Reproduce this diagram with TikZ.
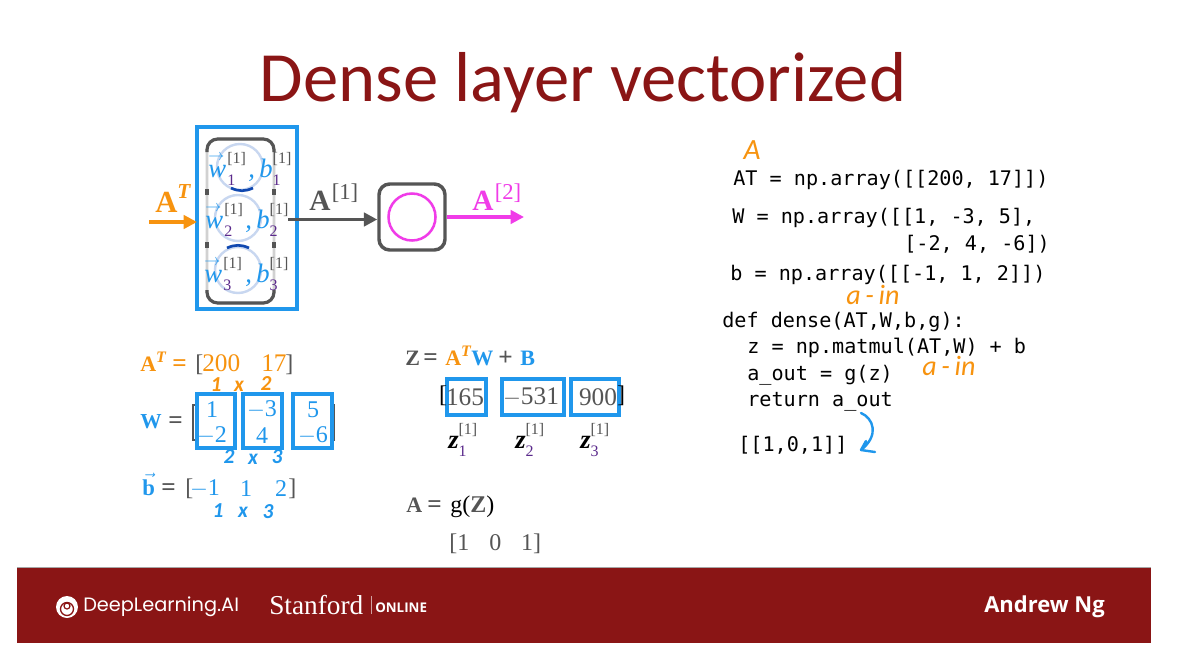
\documentclass[tikz,border=0pt]{standalone}
\usepackage{fontspec}
\setmainfont{Liberation Serif}
\newfontfamily\codefont{DejaVu Sans Mono}
\newfontfamily\titlefont{Carlito}
\newfontfamily\logofont{Poppins}
\newfontfamily\namefont{Open Sans}
\usetikzlibrary{arrows.meta}
\definecolor{slidered}{HTML}{8A1515}
\definecolor{boxblue}{HTML}{2097EC}
\definecolor{inorange}{HTML}{F7930F}
\definecolor{outmagenta}{HTML}{F03CE8}
\definecolor{darkgr}{HTML}{555555}
\definecolor{idxpurple}{HTML}{5B2A8C}
\definecolor{ringblue}{HTML}{C8D7F0}
\definecolor{capblue}{HTML}{1048B0}
\newcommand{\fs}[1]{\fontsize{#1}{#1}\selectfont}
\newcommand{\supsub}[3]{#1\rlap{\raisebox{-.3em}{\fs{12}\upshape\mdseries\color{idxpurple}#3}}\raisebox{.5em}{\fs{12}\upshape\mdseries\color{darkgr}[#2]}}
\newcommand{\wvec}{\rlap{\raisebox{.62em}{\fs{13}$\rightarrow$}}{\itshape w}\hspace{1pt}}
\begin{document}
\begin{tikzpicture}[x=0.75pt,y=-0.75pt,
  txt/.style={inner sep=0pt,anchor=base west,font=\fs{18}},
  mid/.style={inner sep=0pt,anchor=center,font=\fs{18}},
  codeline/.style={inner sep=0pt,anchor=west,font=\codefont\fs{15.1},text=black,text height=11pt,text depth=3pt,xshift=-0.7pt,yshift=-1.5pt},
  hand/.style={inner sep=0pt,anchor=center,font=\titlefont\bfseries\itshape\fs{16}},
  bluebox/.style={draw=boxblue,line width=2.7pt,inner sep=0pt,outer sep=0pt,anchor=north west},
  conn/.style={line width=2.5pt,-{Triangle[length=10pt,width=10pt]}}]
  \useasboundingbox (0,0) rectangle (1179,653);
  \fill[white] (0,0) rectangle (1179,653);
  % titel
  \node[inner sep=0pt,text=slidered,font=\titlefont\fs{53}] (title) at (583,83) {Dense layer vectorized};
  % layer 1
  \node[bluebox,minimum width=100*0.75pt,minimum height=182*0.75pt] (layerbox) at (197,127) {};
  \node[draw=black!18,line width=2pt,rounded corners=8pt,inner sep=0pt,outer sep=0pt,anchor=north west,minimum width=67*0.75pt,minimum height=164*0.75pt] (frame) at (207,139) {};
  \draw[darkgr,line width=2.4pt,rounded corners=8pt] (207,152) -- (207,139) -- (274,139) -- (274,152);
  \draw[darkgr,line width=2.4pt,rounded corners=8pt] (207,290) -- (207,303) -- (274,303) -- (274,290);
  \foreach \x in {207,274} {\foreach \y in {189,242} {\draw[darkgr,line width=2.4pt] (\x,\y) -- (\x,\y+6);}}
  \foreach \i/\x/\y in {1/240/167,2/238/218,3/238/270} {\node[circle,draw=ringblue,line width=1.8pt,inner sep=0pt,minimum size=46*0.75pt] (c\i) at (\x,\y) {};}
  \draw[capblue,line width=2pt] (231,188) to[bend right=25] (253,188);
  \draw[capblue,line width=2pt] (227,248) to[bend left=25] (249,248);
  \foreach \i/\x/\y/\bx in {1/208/177/248,2/205/228/245,3/204/282/245} {
    \node[txt,text=boxblue,font=\fs{20}] (w\i) at (\x,\y) {\supsub{\wvec}{1}{\i}};
    \node[txt,text=boxblue,font=\itshape\fs{20}] (b\i) at (\bx,\y) {\supsub{,\,b}{1}{\i}};}
  % eingang, unit, ausgang
  \node[txt,text=inorange,font=\bfseries\fs{23}] (atlabel) at (155,212) {A\raisebox{.45em}{\fs{16}\itshape T}};
  \coordinate (atstart) at (149,222);
  \draw[conn,draw=inorange,inorange] (atstart) -- (layerbox.west |- atstart);
  \node[rounded corners=8pt,draw=darkgr,line width=2.6pt,inner sep=0pt,minimum size=66*0.75pt] (unit) at (412,217) {};
  \node[circle,draw=outmagenta,line width=1.9pt,inner sep=0pt,minimum size=47*0.75pt] (unitc) at (412,217) {};
  \coordinate (a1start) at (288,219.5);
  \draw[conn,draw=darkgr,darkgr] (a1start) -- (unit.west |- a1start);
  \node[txt,text=darkgr,font=\bfseries\fs{22}] (a1label) at (309,210) {A\raisebox{.35em}{\fs{17}\mdseries\hspace{1pt}[1]}};
  \coordinate (a2end) at (524,217);
  \draw[conn,draw=outmagenta,outmagenta] (unit.east |- a2end) -- (a2end);
  \node[txt,text=outmagenta,font=\bfseries\fs{22}] (a2label) at (472,210) {A\raisebox{.35em}{\fs{17}\mdseries\hspace{1pt}[2]}};
  % gleichheitszeichen
  \foreach \i/\x/\y/\c in {1/172/371/inorange,2/168/428/darkgr,3/161/495/darkgr,4/423/365/darkgr,5/427/512/darkgr} {\node[txt,text=\c,font=\bfseries\fs{19}] (eq\i) at (\x,\y) {=};}
  % links unten
  \node[txt,text=inorange,font=\bfseries\fs{16.5}] (asym) at (140,371) {A\raisebox{.4em}{\fs{12}\itshape T}};
  \foreach \n/\x/\t in {aopen/195/[,aclose/285/]} {\node[txt,text=darkgr] (\n) at (\x,371) {\t};}
  \foreach \n/\x/\t in {aval1/202/200,aval2/261/17} {\node[txt,text=inorange,font=\fs{19}] (\n) at (\x,371) {\t};}
  \node[txt,text=boxblue,font=\bfseries\fs{16}] (wsym) at (140,428) {W};
  \draw[darkgr,line width=1pt] (198,405) -- (193,405) -- (193,440) -- (198,440);
  \draw[darkgr,line width=1pt] (331,405) -- (334,405) -- (334,440) -- (331,440);
  \foreach \i/\x/\w in {1/197/38,2/243/39,3/293/39} {\node[bluebox,minimum width=\w*0.75pt,minimum height=54*0.75pt] (wbox\i) at (\x,394) {};}
  \foreach \i/\x/\top/\bot in {1/212/1/$-$2,2/262/$-$3/4,3/313/5/$-$6} {
    \node[mid,text=boxblue] (wtop\i) at (\x,410) {\top};
    \node[mid,text=boxblue] (wbot\i) at (\x,436) {\bot};}
  \node[txt,text=boxblue,font=\bfseries\fs{17}] (bsym) at (142,495) {$\vec{\mbox{b}}$};
  \node[txt,text=darkgr] (bopen) at (185,495) {[};
  \foreach \i/\x/\v in {1/205/$-$1,2/246/1,3/281/2} {\node[mid,text=boxblue] (bval\i) at (\x,489) {\v};}
  \node[txt,text=darkgr] (bclose) at (288,495) {]};
  % handschrift
  \foreach \n/\x/\y/\t in {h1/216/385/1,h2/239/386/x,h3/266/384/2} {\node[hand,text=inorange] (\n) at (\x,\y) {\t};}
  \foreach \n/\x/\y/\t in {h4/229/457/2,h5/253/459/x,h6/277/457/3,h7/218/511/1,h8/243/512/x,h9/268/512/3} {\node[hand,text=boxblue] (\n) at (\x,\y) {\t};}
  % mitte
  \foreach \n/\x/\c/\t in {zsym/405/darkgr/Z,zat/445/inorange/{A\raisebox{.4em}{\fs{12}\itshape T}},zw/471/boxblue/W,zb/520/boxblue/B} {\node[txt,text=\c,font=\bfseries\fs{16.5}] (\n) at (\x,365) {\t};}
  \node[txt,text=darkgr,font=\bfseries\fs{19}] (zplus) at (498,365) {+};
  \foreach \i/\x/\w in {1/447/39,2/502/62,3/571/48} {\node[bluebox,minimum width=\w*0.75pt,minimum height=36*0.75pt] (zbox\i) at (\x,379) {};}
  \node[mid,text=black] (zopen) at (443,396) {[};
  \node[mid,text=black] (zclose) at (621,396) {]};
  \foreach \i/\x/\v in {1/465/165,2/531/$-$531,3/598/900} {\node[mid,text=darkgr,font=\fs{19}] (zval\i) at (\x,397) {\v};}
  \foreach \i/\x in {1/448,2/515,3/580} {\node[txt,text=black,font=\bfseries\itshape\fs{20}] (zsym\i) at (\x,448) {\supsub{z}{1}{\i}};}
  \node[txt,text=darkgr,font=\bfseries\fs{16.5}] (asym2) at (406,512) {A};
  \node[txt,text=black,font=\fs{18}] (gz) at (450,512) {g(\textbf{\color{darkgr}Z})};
  \node[txt,text=darkgr] (aval) at (449,550) {[1\hspace{15pt}0\hspace{15pt}1]};
  % code
  \foreach \n/\x/\y/\t in {cAT/734/178/{AT = np.array([[200, 17]])},
    cW/733/216/{W = np.array([[1, -3, 5],},
    cWb/905/243/{[-2, 4, -6])},
    cb/731/273/{b = np.array([[-1, 1, 2]])},
    cdef/723/320/{def dense(AT,W,b,g):},
    cz/748/346/{z = np.matmul(AT,W) + b},
    caout/748/373/{a\_out = g(z)},
    cret/748/399/{return a\_out},
    cres/739/444/{[[1,0,1]]}} {\node[codeline] (\n) at (\x,\y) {\t};}
  \node[hand,text=inorange,font=\titlefont\itshape\fs{22}] (hA) at (752,150) {A};
  \node[hand,text=inorange,font=\titlefont\itshape\fs{21}] (hain1) at (873,295) {a\,-\,in};
  \node[hand,text=inorange,font=\titlefont\itshape\fs{21}] (hain2) at (949,366) {a\,-\,in};
  \coordinate (curvea) at (861,413);
  \coordinate (curveb) at (861,450);
  \draw[boxblue,line width=1.8pt,line cap=round,line join=round] (curvea) .. controls (873,418) and (880,435) .. (curveb) -- (866,441) (curveb) -- (875,452);
  % fusszeile
  \fill[slidered] (17,568) rectangle (1151,643);
  \draw[black!35,line width=0.6pt] (17,567.5) -- (1151,567.5);
  \fill[white] (67,607) circle (11);
  \draw[slidered,line width=1pt] (67,609) circle (6.5);
  \draw[slidered,line width=0.9pt] (67,606) circle (3);
  \node[inner sep=0pt,anchor=west,text=white,font=\logofont\fs{14.5}] (dl) at (83,607) {DeepLearning.AI};
  \node[inner sep=0pt,anchor=west,text=white,font=\fs{20.5}] (stan) at (269,605) {Stanford};
  \node[inner sep=0pt,anchor=west,text=white,font=\namefont\bfseries\fs{10}] (online) at (375,608) {ONLINE};
  \draw[white!60!slidered,line width=0.6pt] (371,596) -- (371,614);
  \node[inner sep=0pt,anchor=west,text=white,font=\namefont\bfseries\fs{16.5}] (ng) at (984,607) {Andrew Ng};
\end{tikzpicture}
\end{document}
